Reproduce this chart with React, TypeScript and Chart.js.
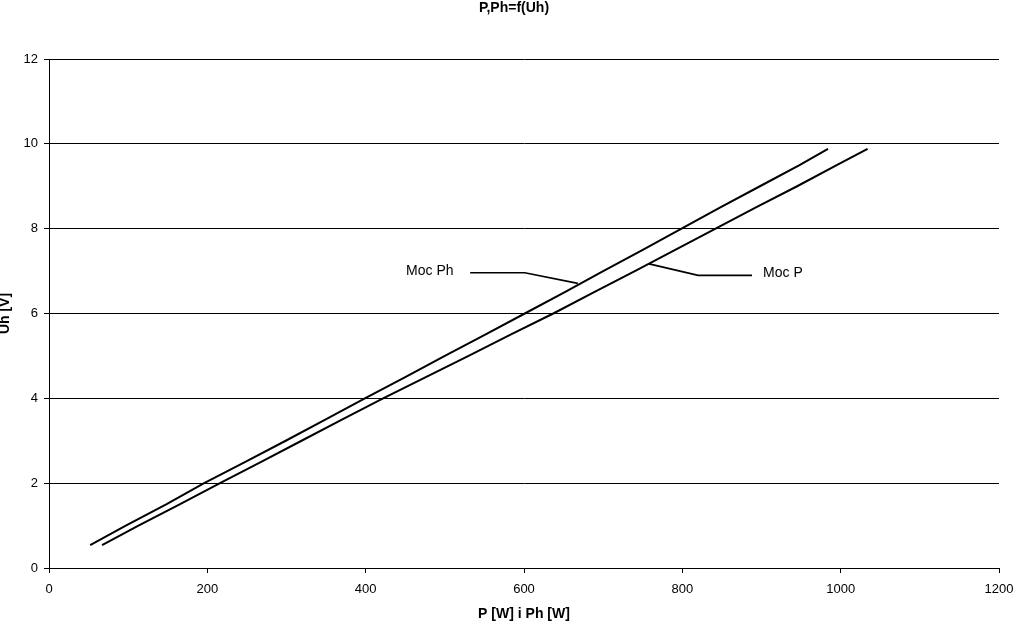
import React, { useEffect, useRef } from "react";
import { Chart, registerables } from "chart.js";

Chart.register(...registerables);

const titleText = "P,Ph=f(Uh)";
const xTitle = "P [W] i Ph [W]";
const yTitle = "Uh [V]";

const mocPhX = [52, 97, 148, 196, 248, 299, 349, 399, 450, 500, 551, 601, 651, 700, 750, 799, 848, 898, 948, 984];
const mocPhY = [0.54, 1.0, 1.5, 2.0, 2.5, 3.0, 3.5, 4.0, 4.5, 5.0, 5.5, 6.0, 6.5, 7.0, 7.5, 8.0, 8.5, 9.0, 9.5, 9.88];

const mocPX = [67, 113, 165, 216, 268, 319, 370, 422, 476, 530, 583, 637, 688, 740, 791, 842, 893, 945, 995, 1034];
const mocPY = [0.54, 1.0, 1.5, 2.0, 2.5, 3.0, 3.5, 4.0, 4.5, 5.0, 5.5, 6.0, 6.5, 7.0, 7.5, 8.0, 8.5, 9.0, 9.5, 9.88];

// leader lines for the data labels
const leaderPhX = [532, 601, 668];
const leaderPhY = [6.96, 6.96, 6.71];
const leaderPX = [758, 820, 888];
const leaderPY = [7.17, 6.9, 6.9];

const labelPh = { text: "Moc Ph", x: 451, y: 7.0 };
const labelP = { text: "Moc P", x: 902, y: 6.95 };

const xTicks = [0, 200, 400, 600, 800, 1000, 1200];
const yTicks = [0, 2, 4, 6, 8, 10, 12];

const FONT = "'Liberation Sans', Arial, sans-serif";

const pts = (xs: number[], ys: number[]) => xs.map((x, i) => ({ x, y: ys[i] }));

export default function App() {
  const ref = useRef<HTMLCanvasElement | null>(null);
  useEffect(() => {
    document.body.style.margin = "0";
    const canvas = ref.current!;
    const overlay = {
      id: "overlay",
      afterDraw(chart: any) {
        const ctx = chart.ctx;
        const xs = chart.scales.x;
        const ys = chart.scales.y;
        ctx.save();
        ctx.fillStyle = "#000";
        ctx.font = `bold 14px ${FONT}`;
        ctx.textAlign = "center";
        ctx.textBaseline = "middle";
        ctx.fillText(titleText, 514, 8);
        ctx.font = `14px ${FONT}`;
        ctx.textAlign = "left";
        for (const l of [labelPh, labelP]) {
          ctx.fillText(l.text, xs.getPixelForValue(l.x), ys.getPixelForValue(l.y));
        }
        ctx.restore();
      },
    };
    const lineDs = (label: string, data: any[], width: number) => ({
      label,
      data,
      borderColor: "#000",
      backgroundColor: "#000",
      borderWidth: width,
      pointRadius: 0,
      showLine: true,
      tension: 0,
    });
    const chart = new Chart(canvas, {
      type: "scatter",
      data: {
        datasets: [
          lineDs("Moc Ph", pts(mocPhX, mocPhY), 2),
          lineDs("Moc P", pts(mocPX, mocPY), 2),
          lineDs("leaderPh", pts(leaderPhX, leaderPhY), 1.6),
          lineDs("leaderP", pts(leaderPX, leaderPY), 1.6),
        ],
      },
      options: {
        animation: false,
        responsive: false,
        layout: { padding: { top: 59, right: 18, left: 0, bottom: 0 } },
        plugins: {
          legend: { display: false },
          tooltip: { enabled: false },
          title: { display: false },
        },
        scales: {
          x: {
            type: "linear",
            min: 0,
            max: 1200,
            afterBuildTicks: (s: any) => {
              s.ticks = xTicks.map((v) => ({ value: v }));
            },
            afterFit: (s: any) => {
              s.height = 57;
              s.paddingRight = 0;
              s.paddingLeft = 0;
            },
            grid: { drawOnChartArea: false, color: "#000", tickLength: 5, tickColor: "#000" },
            border: { color: "#000", width: 1 },
            ticks: {
              color: "#000",
              font: { family: FONT, size: 13 },
              padding: 9,
              maxRotation: 0,
              callback: (v: any) => String(v),
            },
            title: {
              display: true,
              text: xTitle,
              color: "#000",
              font: { family: FONT, size: 14, weight: "bold" },
              padding: { top: 0, bottom: 2 },
            },
          },
          y: {
            type: "linear",
            min: 0,
            max: 12,
            afterBuildTicks: (s: any) => {
              s.ticks = yTicks.map((v) => ({ value: v }));
            },
            afterFit: (s: any) => {
              s.width = 49;
              s.paddingTop = 0;
              s.paddingBottom = 0;
            },
            grid: { color: "#000", tickLength: 5, tickColor: "#000" },
            border: { color: "#000", width: 1 },
            ticks: { color: "#000", font: { family: FONT, size: 13 }, padding: 6, callback: (v: any) => String(v) },
            title: {
              display: true,
              text: yTitle,
              color: "#000",
              font: { family: FONT, size: 14, weight: "bold" },
              padding: { top: -3, bottom: 0 },
            },
          },
        },
      },
      plugins: [overlay],
    } as any);
    return () => chart.destroy();
  }, []);
  return <canvas ref={ref} width={1017} height={625} style={{ display: "block" }} />;
}
